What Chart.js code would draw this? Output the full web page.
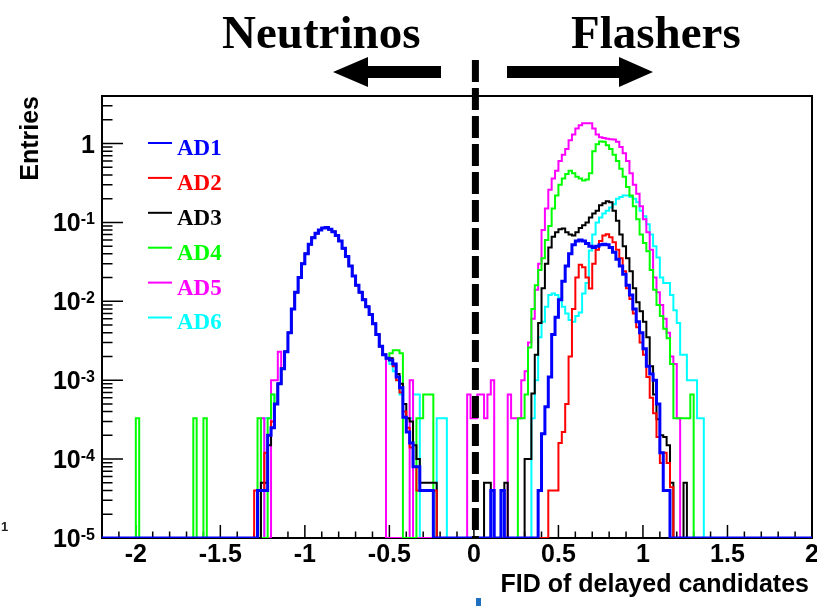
<!DOCTYPE html>
<html>
<head>
<meta charset="utf-8">
<script src="https://cdn.jsdelivr.net/npm/chart.js@4.4.1/dist/chart.umd.min.js"></script>
<style>
  html, body { margin: 0; padding: 0; background: #fff; }
  #wrap { width: 817px; height: 606px; position: relative; }
</style>
</head>
<body>
<div id="wrap"><canvas id="grafico"></canvas></div>
<script>
// binning of the histograms
const xMin = -2.2, xMax = 2.0, binW = 0.02;
const yMin = 1e-5, yMax = 4;

const seriesNames = ["AD1", "AD2", "AD3", "AD4", "AD5", "AD6"];
const seriesColors = ["#0000ff", "#ff0000", "#000000", "#00ff00", "#ff00ff", "#00ffff"];
const seriesWidths = [3, 2, 2, 2, 2, 2];

const xTickLabels = [-2, -1.5, -1, -0.5, 0, 0.5, 1, 1.5, 2];
const yTickExponents = [0, -1, -2, -3, -4, -5];

// neutrino peak, the same for all six detectors (bins from -1.18)
const nuCoreStart = -1.18;
const nuCore = [
  5e-4, 9e-4, 1.4e-3, 2.3e-3, 4e-3, 8e-3, 0.013, 0.02, 0.03, 0.04,
  0.053, 0.064, 0.073, 0.08, 0.085, 0.086, 0.082, 0.076, 0.068, 0.058,
  0.047, 0.037, 0.028, 0.021, 0.016, 0.013, 0.0105, 0.0085, 0.0068, 0.0052,
  0.0038, 0.0027, 0.0021, 0.0019
];

// [bin left edge, content] for tails and isolated bins
const ad1Tails = [
  [-1.28, 4e-5], [-1.26, 4e-5], [-1.24, 4e-5], [-1.22, 2e-4], [-1.20, 2.5e-4],
  [-0.50, 0.0018], [-0.48, 0.0016], [-0.46, 0.0011], [-0.44, 8e-4], [-0.42, 3.4e-4],
  [-0.40, 2.2e-4], [-0.38, 1.6e-4], [-0.36, 8e-5], [-0.34, 8e-5], [-0.32, 4e-5],
  [-0.30, 4e-5], [-0.28, 4e-5], [-0.26, 4e-5],
  [0.10, 4e-5], [0.16, 4e-5]
];
const ad2Tails = [
  [-1.30, 4e-5], [-1.28, 4e-5], [-1.26, 4e-5], [-1.24, 1.2e-4], [-1.22, 2e-4], [-1.20, 3e-4],
  [-0.50, 0.0018], [-0.48, 0.0015], [-0.46, 0.001], [-0.44, 7e-4], [-0.42, 4e-4],
  [-0.40, 2.5e-4], [-0.38, 1.4e-4], [-0.36, 8e-5], [-0.34, 4e-5], [-0.32, 4e-5],
  [-0.30, 4e-5], [-0.28, 4e-5], [-0.26, 4e-5], [-0.24, 4e-5]
];
const ad3Tails = [
  [-1.26, 5e-5], [-1.24, 5e-5], [-1.22, 1.5e-4], [-1.20, 2.5e-4],
  [-0.50, 0.0019], [-0.48, 0.0016], [-0.46, 0.0012], [-0.44, 9e-4], [-0.42, 5e-4],
  [-0.40, 3.3e-4], [-0.38, 3e-4], [-0.36, 1.5e-4], [-0.34, 1e-4], [-0.32, 5e-5],
  [-0.30, 5e-5], [-0.28, 5e-5], [-0.26, 5e-5], [-0.24, 5e-5],
  [0.06, 5e-5], [0.08, 5e-5], [0.18, 5e-5]
];
const ad4Tails = [
  [-2.00, 3.3e-4], [-1.66, 3.3e-4], [-1.60, 3.3e-4],
  [-1.28, 3.3e-4], [-1.22, 3.3e-4], [-1.20, 6.6e-4],
  [-0.50, 0.0022], [-0.48, 0.0024], [-0.46, 0.0024], [-0.44, 0.0022],
  [-0.34, 3.3e-4], [-0.32, 3.3e-4], [-0.30, 6.6e-4], [-0.28, 6.6e-4], [-0.26, 6.6e-4]
];
const ad5Tails = [
  [-1.26, 3.3e-4], [-1.20, 1e-3], [-1.18, 1e-3], [-1.16, 2.3e-3],
  [-0.52, 0], [-0.38, 1e-3],
  [-0.04, 6.6e-4], [-0.02, 3.3e-4], [0.00, 3.3e-4], [0.02, 6.6e-4], [0.04, 6.6e-4],
  [0.06, 3.3e-4], [0.08, 6.6e-4], [0.10, 1e-3],
  [0.20, 6.6e-4], [0.22, 3.3e-4], [0.24, 3.3e-4], [0.26, 3.3e-4]
];
const ad6Tails = [
  [-1.24, 3.3e-4], [-1.22, 3.3e-4], [-1.20, 6.6e-4],
  [-0.50, 0.0016], [-0.48, 0.0013], [-0.46, 1e-3], [-0.44, 6.6e-4], [-0.42, 3.3e-4],
  [-0.40, 3.3e-4], [-0.38, 3.3e-4], [-0.36, 6.6e-4], [-0.34, 6.6e-4],
  [-0.22, 3.3e-4], [-0.20, 3.3e-4], [-0.18, 3.3e-4]
];

// flasher region, contiguous bins from the given start
const ad1FlashStart = 0.38;
const ad1Flash = [
  4e-5, 2.1e-4, 4.6e-4, 1.1e-3, 3.8e-3, 6.3e-3, 0.0105, 0.018, 0.028, 0.04,
  0.052, 0.058, 0.06, 0.058, 0.054, 0.05, 0.048, 0.05, 0.052, 0.053,
  0.052, 0.048, 0.042, 0.034, 0.028, 0.022, 0.016, 0.012, 0.008, 0.0055,
  0.004, 0.0025, 0.0015, 0.0012, 0.001, 5e-4, 1.2e-4, 4e-5, 4e-5
];
const ad2FlashStart = 0.44;
const ad2Flash = [
  4e-5, 4e-5, 4e-5, 1.6e-4, 2.2e-4, 5e-4, 0.002, 0.008, 0.02, 0.029,
  0.027, 0.02, 0.0145, 0.03, 0.045, 0.058, 0.068, 0.071, 0.065, 0.056,
  0.045, 0.035, 0.024, 0.0146, 0.0107, 0.007, 0.0047, 0.003, 0.0021, 0.0011,
  6e-4, 3.8e-4, 1.9e-4, 8.9e-5, 1.2e-4, 8.9e-5, 4.4e-5
];
const ad3FlashStart = 0.30;
const ad3Flash = [
  1e-4, 1e-4, 6.8e-4, 0.0021, 0.0053, 0.0146, 0.03, 0.048, 0.066, 0.075,
  0.082, 0.084, 0.075, 0.07, 0.068, 0.075, 0.085, 0.092, 0.1, 0.115,
  0.13, 0.14, 0.165, 0.175, 0.185, 0.18, 0.14, 0.105, 0.07, 0.05,
  0.035, 0.024, 0.0146, 0.0097, 0.0075, 0.0055, 0.0035, 0.0015, 6.6e-4, 3.2e-4,
  2e-4, 1.9e-4, 1.5e-4, 5e-5, 0, 0, 0, 5e-5
];
const ad4FlashStart = 0.26;
const ad4Flash = [
  3.3e-4, 3.3e-4, 6.6e-4, 0.0026, 0.008, 0.016, 0.025, 0.035, 0.06, 0.09,
  0.15, 0.22, 0.3, 0.36, 0.41, 0.45, 0.42, 0.38, 0.36, 0.34,
  0.35, 0.42, 0.8, 0.98, 1.06, 1.05, 0.95, 0.85, 0.72, 0.6,
  0.48, 0.38, 0.28, 0.22, 0.16, 0.11, 0.07, 0.055, 0.043, 0.025,
  0.014, 0.009, 0.0065, 0.0045, 0.0034, 0.0016, 3.3e-4, 3.3e-4, 3.3e-4, 3.3e-4,
  3.3e-4, 6.6e-4, 0
];
const ad5FlashStart = 0.28;
const ad5Flash = [
  1e-3, 1.3e-3, 3e-3, 6e-3, 0.014, 0.03, 0.08, 0.15, 0.26, 0.36,
  0.45, 0.6, 0.72, 0.85, 1.1, 1.3, 1.55, 1.7, 1.8, 1.8,
  1.8, 1.55, 1.3, 1.2, 1.17, 1.15, 1.13, 1.12, 1.05, 0.9,
  0.75, 0.6, 0.42, 0.3, 0.23, 0.16, 0.11, 0.075, 0.045, 0.02,
  0.013, 0.009, 0.006, 0.004, 0.002, 0.0016, 3.3e-4
];
const ad6FlashStart = 0.34;
const ad6Flash = [
  3.3e-4, 1e-3, 0.0035, 0.0055, 0.0085, 0.012, 0.0126, 0.012, 0.011, 0.0085,
  0.007, 0.0058, 0.0055, 0.0065, 0.0072, 0.0126, 0.017, 0.044, 0.07, 0.1,
  0.115, 0.13, 0.14, 0.155, 0.17, 0.2, 0.21, 0.22, 0.22, 0.21,
  0.2, 0.18, 0.14, 0.12, 0.095, 0.07, 0.05, 0.036, 0.02, 0.017,
  0.017, 0.012, 0.0077, 0.0053, 0.0021, 0.0021, 0.001, 0.001, 0.001, 3.3e-4,
  3.3e-4
];

const nBins = Math.round((xMax - xMin) / binW);
const binOf = x => Math.round((x - xMin) / binW);

function montarHistograma(tails, flashStart, flash) {
  const v = new Array(nBins).fill(0);
  nuCore.forEach((c, k) => { v[binOf(nuCoreStart) + k] = c; });
  flash.forEach((c, k) => { v[binOf(flashStart) + k] = c; });
  tails.forEach(([x, c]) => { v[binOf(x)] = c; });
  // empty bins sit on the bottom of the frame, like ROOT draws them
  const pts = v.map((c, i) => ({ x: xMin + i * binW, y: c > 0 ? c : yMin }));
  pts.push({ x: xMax, y: yMin });
  return pts;
}

const histos = [
  montarHistograma(ad1Tails, ad1FlashStart, ad1Flash),
  montarHistograma(ad2Tails, ad2FlashStart, ad2Flash),
  montarHistograma(ad3Tails, ad3FlashStart, ad3Flash),
  montarHistograma(ad4Tails, ad4FlashStart, ad4Flash),
  montarHistograma(ad5Tails, ad5FlashStart, ad5Flash),
  montarHistograma(ad6Tails, ad6FlashStart, ad6Flash)
];

const sans = '"Liberation Sans", Arial, Helvetica, sans-serif';
const serif = '"Liberation Serif", "Times New Roman", serif';

const decoracoes = {
  id: "decoracoes",
  beforeDatasetsDraw(chart) {
    const { ctx, chartArea: a, scales: { x, y } } = chart;
    ctx.save();
    ctx.strokeStyle = "#000";
    ctx.lineWidth = 2;
    ctx.strokeRect(a.left, a.top, a.right - a.left, a.bottom - a.top);

    // ticks point into the frame
    ctx.lineWidth = 1.5;
    ctx.beginPath();
    for (let k = -22; k <= 20; k++) {
      const px = x.getPixelForValue(k / 10);
      const len = k % 5 === 0 ? 13 : 6.5;
      ctx.moveTo(px, a.bottom);
      ctx.lineTo(px, a.bottom - len);
    }
    for (let e = -5; e <= 0; e++) {
      for (let m = 1; m <= 9; m++) {
        const v = m * Math.pow(10, e);
        if (v >= yMax) break;
        const py = y.getPixelForValue(v);
        const len = m === 1 ? 21 : 10.5;
        ctx.moveTo(a.left, py);
        ctx.lineTo(a.left + len, py);
      }
    }
    ctx.stroke();

    // tick labels
    ctx.fillStyle = "#000";
    ctx.font = "bold 25px " + sans;
    ctx.textAlign = "center";
    ctx.textBaseline = "alphabetic";
    xTickLabels.forEach(v => {
      ctx.fillText(String(v), x.getPixelForValue(v), 562);
    });

    const labelRight = 95;
    yTickExponents.forEach(e => {
      const py = y.getPixelForValue(Math.pow(10, e));
      if (e === 0) {
        ctx.font = "bold 25px " + sans;
        ctx.textAlign = "right";
        ctx.fillText("1", labelRight, py + 9);
        return;
      }
      ctx.font = "bold 16px " + sans;
      const expW = ctx.measureText(String(e)).width;
      ctx.textAlign = "left";
      ctx.fillText(String(e), labelRight - expW, py + 2);
      ctx.font = "bold 25px " + sans;
      ctx.textAlign = "right";
      ctx.fillText("10", labelRight - expW, py + 9);
    });

    // axis titles
    ctx.font = "bold 25px " + sans;
    ctx.textAlign = "right";
    ctx.fillText("FID of delayed candidates", 809, 592);
    ctx.save();
    ctx.translate(31, a.top);
    ctx.rotate(-Math.PI / 2);
    ctx.textAlign = "right";
    ctx.textBaseline = "middle";
    ctx.fillText("Entries", 0, 0);
    ctx.restore();
    ctx.restore();
  },
  afterDatasetsDraw(chart) {
    const { ctx, chartArea: a, scales: { x } } = chart;
    ctx.save();

    // cut at FID = 0
    const x0 = x.getPixelForValue(0) + 1.5;
    ctx.strokeStyle = "#000";
    ctx.lineWidth = 7;
    ctx.setLineDash([22, 6]);
    ctx.beginPath();
    ctx.moveTo(x0, 60);
    ctx.lineTo(x0, a.bottom);
    ctx.stroke();
    ctx.setLineDash([]);

    // legend
    chart.data.datasets.forEach((ds, i) => {
      const cy = 148 + i * 34.9;
      ctx.strokeStyle = ds.borderColor;
      ctx.lineWidth = 2;
      ctx.beginPath();
      ctx.moveTo(148, cy - 5);
      ctx.lineTo(172, cy - 5);
      ctx.stroke();
      ctx.fillStyle = ds.borderColor;
      ctx.font = "bold 23px " + serif;
      ctx.textAlign = "left";
      ctx.textBaseline = "middle";
      ctx.fillText(ds.label, 177, cy + 1);
    });

    // headings and arrows
    ctx.fillStyle = "#000";
    ctx.font = "bold 47px " + serif;
    ctx.textAlign = "left";
    ctx.textBaseline = "alphabetic";
    ctx.fillText("Neutrinos", 222, 48);
    ctx.fillText("Flashers", 571, 48);

    ctx.beginPath();
    ctx.moveTo(333, 72);
    ctx.lineTo(368, 57);
    ctx.lineTo(368, 66);
    ctx.lineTo(441, 66);
    ctx.lineTo(441, 78);
    ctx.lineTo(368, 78);
    ctx.lineTo(368, 87);
    ctx.closePath();
    ctx.fill();

    ctx.beginPath();
    ctx.moveTo(653, 72);
    ctx.lineTo(619, 57);
    ctx.lineTo(619, 66);
    ctx.lineTo(507, 66);
    ctx.lineTo(507, 78);
    ctx.lineTo(619, 78);
    ctx.lineTo(619, 87);
    ctx.closePath();
    ctx.fill();

    // leftovers at the picture edges
    ctx.fillStyle = "#222";
    ctx.font = "bold 13px " + sans;
    ctx.fillText("1", 1, 531);
    ctx.fillStyle = "#1f6fc0";
    ctx.fillRect(476, 598, 5, 8);
    ctx.restore();
  }
};

new Chart(document.getElementById("grafico"), {
  type: "line",
  data: {
    datasets: histos.map((pts, i) => ({
      label: seriesNames[i],
      data: pts,
      borderColor: seriesColors[i],
      borderWidth: seriesWidths[i],
      pointRadius: 0,
      stepped: true,
      fill: false
    }))
  },
  options: {
    responsive: true,
    maintainAspectRatio: false,
    animation: false,
    events: [],
    layout: { padding: { top: 96, right: 5, bottom: 0, left: 0 } },
    plugins: { legend: { display: false }, tooltip: { enabled: false } },
    scales: {
      x: {
        type: "linear", min: xMin, max: xMax,
        ticks: { display: false },
        grid: { display: false, drawTicks: false },
        border: { display: false },
        afterFit: s => { s.height = 68; }
      },
      y: {
        type: "logarithmic", min: yMin, max: yMax,
        ticks: { display: false },
        grid: { display: false, drawTicks: false },
        border: { display: false },
        afterFit: s => { s.width = 102; }
      }
    }
  },
  plugins: [decoracoes]
});
</script>
</body>
</html>
